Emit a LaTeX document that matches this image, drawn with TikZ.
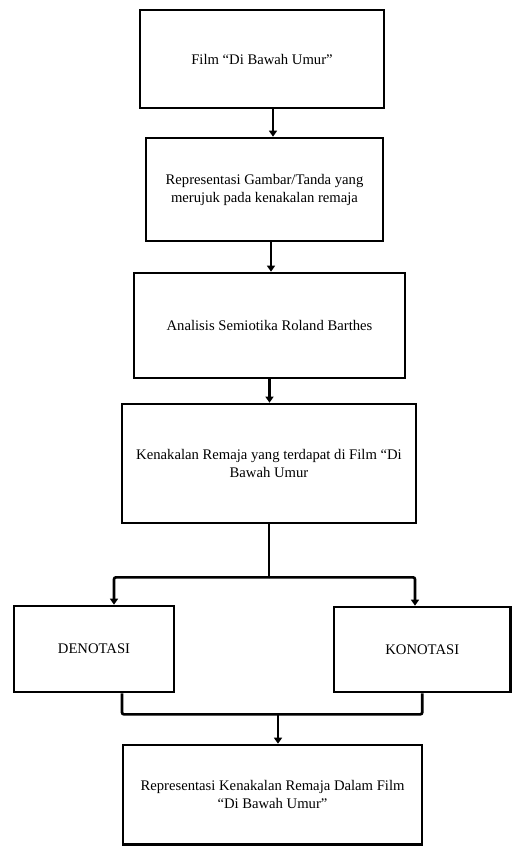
\documentclass[tikz,border=0pt]{standalone}
\usepackage{fontspec}
\setmainfont{Liberation Serif}
\usetikzlibrary{arrows.meta}

\begin{document}
\begin{tikzpicture}[x=0.75pt,y=-0.75pt]
        \tikzstyle{every node}=[font=\fontsize{11}{13.5}\selectfont]
        \tikzstyle{box}=[draw, line width=2pt, align=center, inner sep=2pt]
        \tikzstyle{arr}=[line width=2pt, -{Triangle[length=4.5pt,width=6pt]}]
        \tikzstyle{link}=[line width=2pt, rounded corners=1.5pt]

        \useasboundingbox (0,0) rectangle (512,846);

        \node[box, minimum width=183pt, minimum height=73.5pt] (film) at (262,59) {Film “Di Bawah Umur”};
        \node[box, minimum width=177.75pt, minimum height=77.25pt] (repr) at (264.5,189.5) {Representasi Gambar/Tanda yang\\merujuk pada kenakalan remaja};
        \node[box, minimum width=203.25pt, minimum height=78.75pt] (analisis) at (269.5,325.5) {Analisis Semiotika Roland Barthes};
        \node[box, minimum width=220.5pt, minimum height=89.25pt] (kenakalan) at (269,463.5) {Kenakalan Remaja yang terdapat di Film “Di\\Bawah Umur};
        \node[box, minimum width=120pt, minimum height=64.5pt] (deno) at (94,649) {DENOTASI};
        \node[box, minimum width=132.4pt, minimum height=63.75pt] (kono) at (422.25,649.5) {KONOTASI};
        \node[box, minimum width=224.25pt, minimum height=74.6pt] (hasil) at (272.5,794.75) {Representasi Kenakalan Remaja Dalam Film\\“Di Bawah Umur”};

        \path (film.south) ++(11,0) coordinate (a1);
        \draw[arr] (a1) -- (a1 |- repr.north);
        \path (repr.south) ++(6.5,0) coordinate (a2);
        \draw[arr] (a2) -- (a2 |- analisis.north);
        \draw[arr] (analisis.south) -- (analisis.south |- kenakalan.north);

        \draw[link] (kenakalan.south) -- ++(0,53) coordinate (s);
        \path (deno.north) ++(20,0) coordinate (d1);
        \path (kono.north) ++(-7.25,0) coordinate (k1);
        \draw[arr, rounded corners=1.5pt] (s) -| (d1);
        \draw[arr, rounded corners=1.5pt] (s) -| (k1);

        \path (deno.south) ++(28,0) coordinate (d2);
        \draw[link] (d2) -- ++(0,21) coordinate (m) -| (kono.south);
        \path (hasil.north) ++(5.5,0) coordinate (h);
        \draw[arr] (h |- m) -- (h);
    \end{tikzpicture}
\end{document}
